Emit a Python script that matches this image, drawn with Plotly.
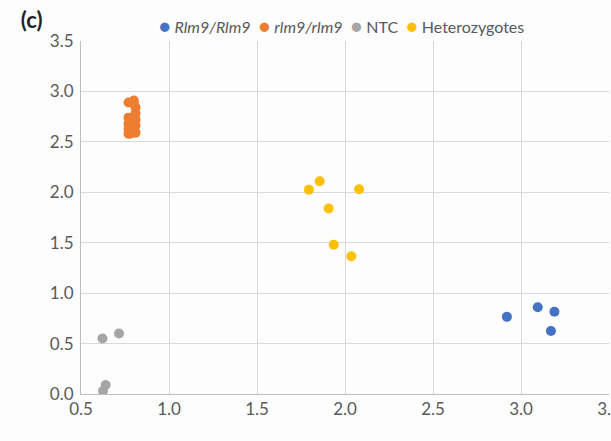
import plotly.graph_objects as go

# Genotype clusters (allele 1 signal vs allele 2 signal)
rlm9_hom_x = [2.92, 3.095, 3.19, 3.17]
rlm9_hom_y = [0.765, 0.86, 0.815, 0.625]

rlm9_rec_x = [0.77, 0.80, 0.81, 0.81, 0.81, 0.81, 0.81, 0.77, 0.77, 0.77, 0.77, 0.79, 0.79, 0.78, 0.80]
rlm9_rec_y = [2.89, 2.91, 2.84, 2.78, 2.72, 2.66, 2.59, 2.74, 2.68, 2.63, 2.58, 2.70, 2.62, 2.58, 2.88]

ntc_x = [0.622, 0.716, 0.64, 0.625]
ntc_y = [0.55, 0.60, 0.09, 0.03]

het_x = [1.795, 1.856, 2.08, 1.907, 1.936, 2.036]
het_y = [2.025, 2.11, 2.03, 1.84, 1.48, 1.365]

series_names = ["Rlm9/Rlm9", "rlm9/rlm9", "NTC", "Heterozygotes"]
series_colors = ["#4472C4", "#ED7D31", "#A5A5A5", "#FFC000"]
series_italic = [True, True, False, False]

xs = [rlm9_hom_x, rlm9_rec_x, ntc_x, het_x]
ys = [rlm9_hom_y, rlm9_rec_y, ntc_y, het_y]

FONT = "Lato, 'Open Sans', sans-serif"
TEXT_COLOR = "#595959"

fig = go.Figure()
for name, color, x, y in zip(series_names, series_colors, xs, ys):
    fig.add_trace(go.Scatter(
        x=x, y=y, mode="markers", name=name,
        marker=dict(color=color, size=10, line=dict(width=0)),
    ))

# Compact legend line: coloured dot followed by the series label
parts = []
for name, color, ital in zip(series_names, series_colors, series_italic):
    label = f"<i>{name}</i>" if ital else name
    parts.append(f"<span style='color:{color};font-size:19px'>●</span>&nbsp;{label}")
legend_text = "&nbsp;&nbsp;".join(parts)

fig.add_annotation(
    x=0.494, y=1.045, xref="paper", yref="paper",
    xanchor="center", yanchor="middle",
    text=legend_text, showarrow=False,
    font=dict(family=FONT, size=16, color=TEXT_COLOR),
)

axis_common = dict(
    showgrid=True, gridcolor="#d9d9d9", gridwidth=1,
    showline=True, linecolor="#bfbfbf", linewidth=1,
    zeroline=False, ticks="", dtick=0.5, tickformat=".1f",
    tickfont=dict(family=FONT, size=17, color=TEXT_COLOR),
    ticklabeloverflow="allow", automargin=False,
)

fig.update_xaxes(range=[0.5, 3.5], tick0=0.5, **axis_common)
fig.update_yaxes(range=[0, 3.5], tick0=0, ticklabelstandoff=3, **axis_common)

fig.update_layout(
    width=611, height=441,
    margin=dict(l=81, r=2, t=41, b=47),
    paper_bgcolor="#fdfdfd", plot_bgcolor="#fdfdfd",
    showlegend=False,
    title=dict(
        text="<b>(c)</b>", x=0.034, xanchor="left",
        y=1 - 20 / 441, yanchor="middle",
        font=dict(family=FONT, size=22, color="#222222"),
    ),
)

fig.write_html("out.html")
